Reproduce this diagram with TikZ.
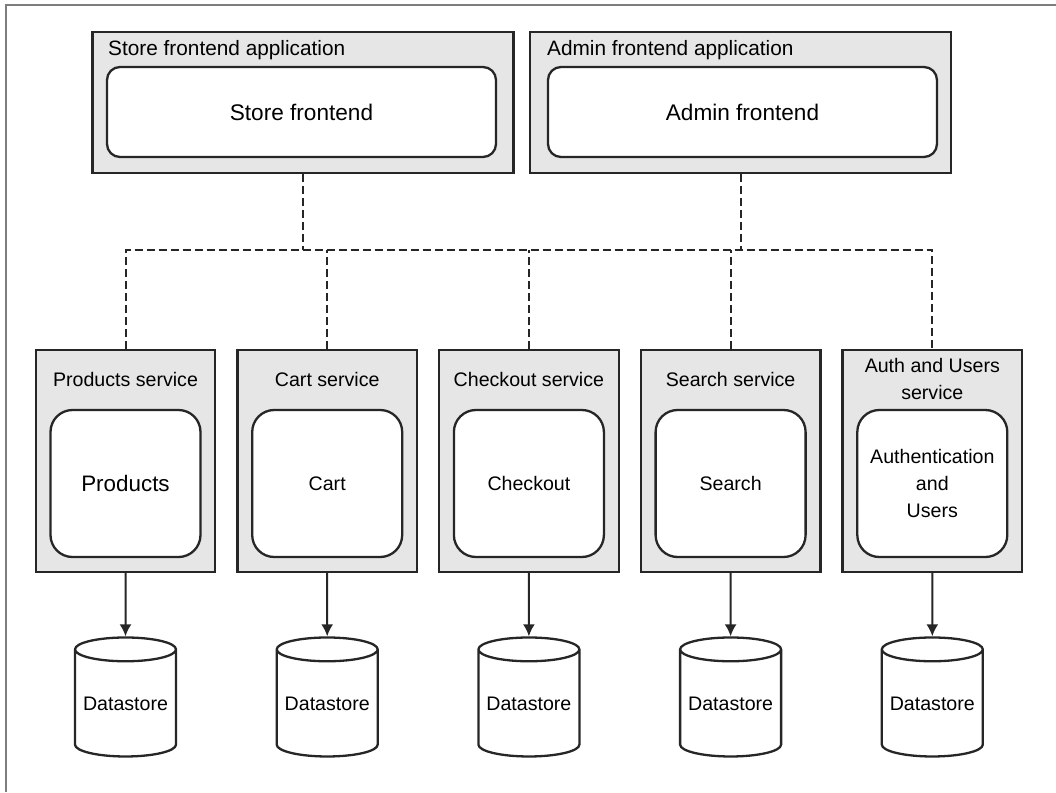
\documentclass[tikz,border=0pt]{standalone}
\usepackage{fontspec}
\setmainfont{Liberation Sans}
\usepackage{tikz}
\usetikzlibrary{shapes.geometric, arrows.meta}
\definecolor{edge}{RGB}{38, 38, 38}
\definecolor{shade}{RGB}{230, 230, 230}
\definecolor{frame}{RGB}{125, 125, 125}
\newcommand*{\bw}{179.5}

\begin{document}
\begin{tikzpicture}[
   x=1pt, y=-1pt,
   appbox/.style={rectangle, draw=edge, fill=shade, line width=2.3,
                  inner sep=0, minimum width=421, minimum height=141},
   appcore/.style={rectangle, rounded corners=13, draw=edge, fill=white, line width=2.3,
                   inner sep=0, minimum width=389, minimum height=90,
                   font=\fontsize{22.6}{27}\selectfont},
   apptitle/.style={inner sep=0, anchor=base west, font=\fontsize{20.8}{25}\selectfont},
   svcbox/.style={rectangle, draw=edge, fill=shade, line width=2.3,
                  inner sep=0, minimum width=\bw, minimum height=222},
   svccore/.style={rectangle, rounded corners=22, draw=edge, fill=white, line width=2.3,
                   inner sep=0, minimum width=150, minimum height=147, align=center,
                   font=\fontsize{19.6}{27}\selectfont},
   svctitle/.style={inner sep=0, align=center, font=\fontsize{19.6}{26.5}\selectfont},
   datastore/.style={cylinder, shape border rotate=90, aspect=0.28, draw=edge, fill=white,
                     line width=2.3, inner sep=0, minimum width=101, minimum height=119,
                     font=\fontsize{19.6}{24}\selectfont},
   link/.style={draw=edge, line width=2, dash pattern=on 8 off 4},
   dbarrow/.style={->, >={Latex[length=12pt, width=12pt]}, draw=edge, line width=2}
  ]

  % Page and frame
  \useasboundingbox (0, 0) rectangle (1056, 792);
  \draw[frame, line width=1.5] (1056, 5) -- (6, 5) -- (6, 792);

  % Frontend applications
  \node (storeapp) at (303, 102.5) [appbox] {};
  \node (storetitle) at (108, 55.5) [apptitle] {Store frontend application};
  \node (storefe) at (301.5, 112) [appcore] {Store frontend};

  \node (adminapp) at (740.5, 102.5) [appbox] {};
  \node (admintitle) at (547, 55.5) [apptitle] {Admin frontend application};
  \node (adminfe) at (742.5, 112) [appcore] {Admin frontend};

  % Service spacing
  \pgfmathsetmacro{\d}{201.7}

  \foreach \n/\i/\t/\c in {prod/0/Products service/{\fontsize{22.4}{27}\selectfont Products},
                          cart/1/Cart service/Cart,
                          check/2/Checkout service/Checkout,
                          search/3/Search service/Search,
                          auth/4/{Auth and Users\\service}/{Authentication\\and\\Users}} {
    \node (\n) at (125.5 + \i * \d, 461) [svcbox] {};
    \node (\n-title) at (125.5 + \i * \d, 379) [svctitle] {\t};
    \node (\n-core) at (125.5 + \i * \d, 483.5) [svccore] {\c};
    \node (\n-db) at (125.5 + \i * \d, 703.5) [datastore] {Datastore};
    \draw[dbarrow] (\n) -- (\n-db);
  }

  \coordinate (bus) at (0, 250);
  \draw[link] (prod.north) -- (prod.north |- bus) -- (auth.north |- bus) -- (auth.north);
  \foreach \n in {cart, check, search} {
    \draw[link] (\n.north) -- (\n.north |- bus);
  }
  \foreach \n in {storeapp, adminapp} {
    \draw[link] (\n.south) -- (\n.south |- bus);
  }

\end{tikzpicture}
\end{document}
